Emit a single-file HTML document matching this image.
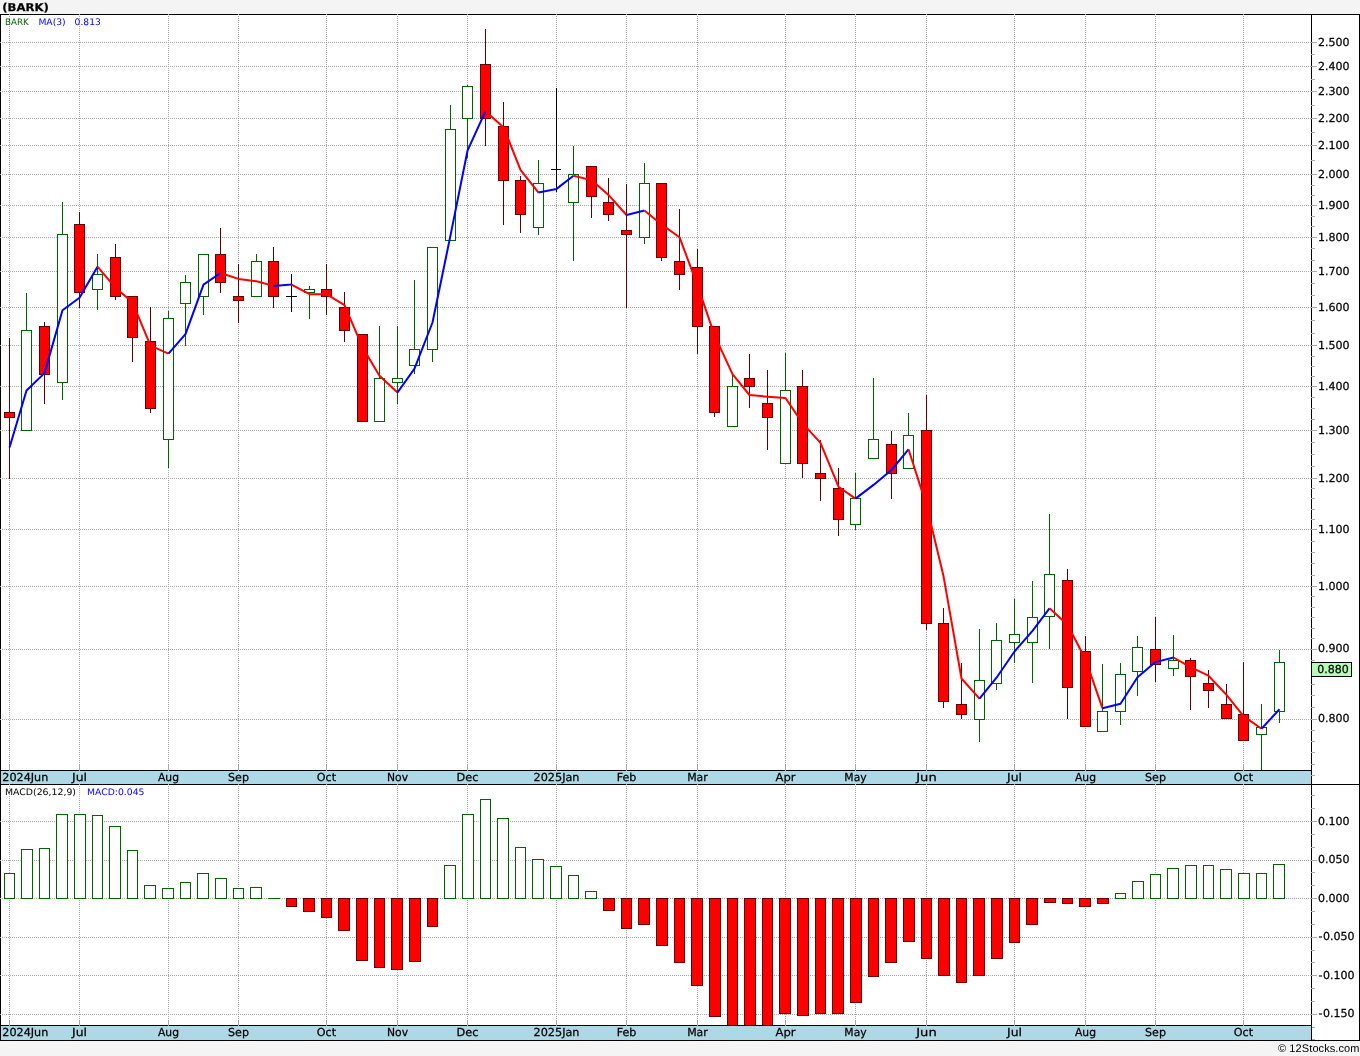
<!DOCTYPE html>
<html lang="en"><head><meta charset="utf-8"><title>(BARK)</title>
<style>html,body{margin:0;padding:0;background:#f4f4f4;overflow:hidden}svg{display:block}</style>
</head><body>
<svg width="1360" height="1056" viewBox="0 0 1360 1056" style="display:block;font-family:'DejaVu Sans', 'Liberation Sans', sans-serif" shape-rendering="crispEdges">
<rect x="0" y="0" width="1360" height="1056" fill="#f4f4f4"/>
<rect x="0" y="14" width="1360" height="1027" fill="#ffffff"/>
<rect x="1" y="771" width="1310" height="13" fill="#add8e6"/>
<rect x="1" y="1026" width="1310" height="14" fill="#add8e6"/>
<g stroke="#aaaaaa" stroke-width="1" stroke-dasharray="1 1" fill="none">
<path d="M2 42.5H1311"/>
<path d="M2 66.5H1311"/>
<path d="M2 91.5H1311"/>
<path d="M2 118.5H1311"/>
<path d="M2 145.5H1311"/>
<path d="M2 174.5H1311"/>
<path d="M2 205.5H1311"/>
<path d="M2 237.5H1311"/>
<path d="M2 271.5H1311"/>
<path d="M2 307.5H1311"/>
<path d="M2 345.5H1311"/>
<path d="M2 386.5H1311"/>
<path d="M2 430.5H1311"/>
<path d="M2 478.5H1311"/>
<path d="M2 529.5H1311"/>
<path d="M2 586.5H1311"/>
<path d="M2 649.5H1311"/>
<path d="M2 719.5H1311"/>
<path d="M2 821.5H1311"/>
<path d="M2 860.5H1311"/>
<path d="M2 898.5H1311"/>
<path d="M2 937.5H1311"/>
<path d="M2 975.5H1311"/>
<path d="M2 1014.5H1311"/>
<path d="M9.5 16V764"/>
<path d="M9.5 786V1020"/>
<path d="M79.5 16V764"/>
<path d="M79.5 786V1020"/>
<path d="M168.5 16V764"/>
<path d="M168.5 786V1020"/>
<path d="M238.5 16V764"/>
<path d="M238.5 786V1020"/>
<path d="M326.5 16V764"/>
<path d="M326.5 786V1020"/>
<path d="M397.5 16V764"/>
<path d="M397.5 786V1020"/>
<path d="M467.5 16V764"/>
<path d="M467.5 786V1020"/>
<path d="M556.5 16V764"/>
<path d="M556.5 786V1020"/>
<path d="M626.5 16V764"/>
<path d="M626.5 786V1020"/>
<path d="M697.5 16V764"/>
<path d="M697.5 786V1020"/>
<path d="M785.5 16V764"/>
<path d="M785.5 786V1020"/>
<path d="M855.5 16V764"/>
<path d="M855.5 786V1020"/>
<path d="M926.5 16V764"/>
<path d="M926.5 786V1020"/>
<path d="M1014.5 16V764"/>
<path d="M1014.5 786V1020"/>
<path d="M1085.5 16V764"/>
<path d="M1085.5 786V1020"/>
<path d="M1155.5 16V764"/>
<path d="M1155.5 786V1020"/>
<path d="M1243.5 16V764"/>
<path d="M1243.5 786V1020"/>
</g>
<rect x="0" y="14" width="1360" height="1" fill="#000"/>
<rect x="0" y="770" width="1312" height="1" fill="#000"/>
<rect x="0" y="784" width="1360" height="1" fill="#000"/>
<rect x="0" y="1025" width="1312" height="1" fill="#000"/>
<rect x="0" y="1040" width="1360" height="1" fill="#000"/>
<rect x="0" y="14" width="1" height="1027" fill="#000"/>
<rect x="1359" y="14" width="1" height="1027" fill="#000"/>
<rect x="1311" y="14" width="1" height="1027" fill="#000"/>
<rect x="9" y="14" width="1" height="1" fill="#aaaaaa"/>
<rect x="9" y="784" width="1" height="1" fill="#aaaaaa"/>
<rect x="9" y="764" width="1" height="7" fill="#aaaaaa"/>
<rect x="9" y="1020" width="1" height="6" fill="#aaaaaa"/>
<rect x="79" y="14" width="1" height="1" fill="#aaaaaa"/>
<rect x="79" y="784" width="1" height="1" fill="#aaaaaa"/>
<rect x="79" y="764" width="1" height="7" fill="#aaaaaa"/>
<rect x="79" y="1020" width="1" height="6" fill="#aaaaaa"/>
<rect x="168" y="14" width="1" height="1" fill="#aaaaaa"/>
<rect x="168" y="784" width="1" height="1" fill="#aaaaaa"/>
<rect x="168" y="764" width="1" height="7" fill="#aaaaaa"/>
<rect x="168" y="1020" width="1" height="6" fill="#aaaaaa"/>
<rect x="238" y="14" width="1" height="1" fill="#aaaaaa"/>
<rect x="238" y="784" width="1" height="1" fill="#aaaaaa"/>
<rect x="238" y="764" width="1" height="7" fill="#aaaaaa"/>
<rect x="238" y="1020" width="1" height="6" fill="#aaaaaa"/>
<rect x="326" y="14" width="1" height="1" fill="#aaaaaa"/>
<rect x="326" y="784" width="1" height="1" fill="#aaaaaa"/>
<rect x="326" y="764" width="1" height="7" fill="#aaaaaa"/>
<rect x="326" y="1020" width="1" height="6" fill="#aaaaaa"/>
<rect x="397" y="14" width="1" height="1" fill="#aaaaaa"/>
<rect x="397" y="784" width="1" height="1" fill="#aaaaaa"/>
<rect x="397" y="764" width="1" height="7" fill="#aaaaaa"/>
<rect x="397" y="1020" width="1" height="6" fill="#aaaaaa"/>
<rect x="467" y="14" width="1" height="1" fill="#aaaaaa"/>
<rect x="467" y="784" width="1" height="1" fill="#aaaaaa"/>
<rect x="467" y="764" width="1" height="7" fill="#aaaaaa"/>
<rect x="467" y="1020" width="1" height="6" fill="#aaaaaa"/>
<rect x="556" y="14" width="1" height="1" fill="#aaaaaa"/>
<rect x="556" y="784" width="1" height="1" fill="#aaaaaa"/>
<rect x="556" y="764" width="1" height="7" fill="#aaaaaa"/>
<rect x="556" y="1020" width="1" height="6" fill="#aaaaaa"/>
<rect x="626" y="14" width="1" height="1" fill="#aaaaaa"/>
<rect x="626" y="784" width="1" height="1" fill="#aaaaaa"/>
<rect x="626" y="764" width="1" height="7" fill="#aaaaaa"/>
<rect x="626" y="1020" width="1" height="6" fill="#aaaaaa"/>
<rect x="697" y="14" width="1" height="1" fill="#aaaaaa"/>
<rect x="697" y="784" width="1" height="1" fill="#aaaaaa"/>
<rect x="697" y="764" width="1" height="7" fill="#aaaaaa"/>
<rect x="697" y="1020" width="1" height="6" fill="#aaaaaa"/>
<rect x="785" y="14" width="1" height="1" fill="#aaaaaa"/>
<rect x="785" y="784" width="1" height="1" fill="#aaaaaa"/>
<rect x="785" y="764" width="1" height="7" fill="#aaaaaa"/>
<rect x="785" y="1020" width="1" height="6" fill="#aaaaaa"/>
<rect x="855" y="14" width="1" height="1" fill="#aaaaaa"/>
<rect x="855" y="784" width="1" height="1" fill="#aaaaaa"/>
<rect x="855" y="764" width="1" height="7" fill="#aaaaaa"/>
<rect x="855" y="1020" width="1" height="6" fill="#aaaaaa"/>
<rect x="926" y="14" width="1" height="1" fill="#aaaaaa"/>
<rect x="926" y="784" width="1" height="1" fill="#aaaaaa"/>
<rect x="926" y="764" width="1" height="7" fill="#aaaaaa"/>
<rect x="926" y="1020" width="1" height="6" fill="#aaaaaa"/>
<rect x="1014" y="14" width="1" height="1" fill="#aaaaaa"/>
<rect x="1014" y="784" width="1" height="1" fill="#aaaaaa"/>
<rect x="1014" y="764" width="1" height="7" fill="#aaaaaa"/>
<rect x="1014" y="1020" width="1" height="6" fill="#aaaaaa"/>
<rect x="1085" y="14" width="1" height="1" fill="#aaaaaa"/>
<rect x="1085" y="784" width="1" height="1" fill="#aaaaaa"/>
<rect x="1085" y="764" width="1" height="7" fill="#aaaaaa"/>
<rect x="1085" y="1020" width="1" height="6" fill="#aaaaaa"/>
<rect x="1155" y="14" width="1" height="1" fill="#aaaaaa"/>
<rect x="1155" y="784" width="1" height="1" fill="#aaaaaa"/>
<rect x="1155" y="764" width="1" height="7" fill="#aaaaaa"/>
<rect x="1155" y="1020" width="1" height="6" fill="#aaaaaa"/>
<rect x="1243" y="14" width="1" height="1" fill="#aaaaaa"/>
<rect x="1243" y="784" width="1" height="1" fill="#aaaaaa"/>
<rect x="1243" y="764" width="1" height="7" fill="#aaaaaa"/>
<rect x="1243" y="1020" width="1" height="6" fill="#aaaaaa"/>
<rect x="0" y="42" width="1" height="1" fill="#aaaaaa"/>
<rect x="0" y="66" width="1" height="1" fill="#aaaaaa"/>
<rect x="0" y="91" width="1" height="1" fill="#aaaaaa"/>
<rect x="0" y="118" width="1" height="1" fill="#aaaaaa"/>
<rect x="0" y="145" width="1" height="1" fill="#aaaaaa"/>
<rect x="0" y="174" width="1" height="1" fill="#aaaaaa"/>
<rect x="0" y="205" width="1" height="1" fill="#aaaaaa"/>
<rect x="0" y="237" width="1" height="1" fill="#aaaaaa"/>
<rect x="0" y="271" width="1" height="1" fill="#aaaaaa"/>
<rect x="0" y="307" width="1" height="1" fill="#aaaaaa"/>
<rect x="0" y="345" width="1" height="1" fill="#aaaaaa"/>
<rect x="0" y="386" width="1" height="1" fill="#aaaaaa"/>
<rect x="0" y="430" width="1" height="1" fill="#aaaaaa"/>
<rect x="0" y="478" width="1" height="1" fill="#aaaaaa"/>
<rect x="0" y="529" width="1" height="1" fill="#aaaaaa"/>
<rect x="0" y="586" width="1" height="1" fill="#aaaaaa"/>
<rect x="0" y="649" width="1" height="1" fill="#aaaaaa"/>
<rect x="0" y="719" width="1" height="1" fill="#aaaaaa"/>
<rect x="0" y="821" width="1" height="1" fill="#aaaaaa"/>
<rect x="0" y="860" width="1" height="1" fill="#aaaaaa"/>
<rect x="0" y="898" width="1" height="1" fill="#aaaaaa"/>
<rect x="0" y="937" width="1" height="1" fill="#aaaaaa"/>
<rect x="0" y="975" width="1" height="1" fill="#aaaaaa"/>
<rect x="0" y="1014" width="1" height="1" fill="#aaaaaa"/>
<rect x="1311" y="42" width="6" height="1" fill="#aaaaaa"/>
<rect x="1311" y="66" width="6" height="1" fill="#aaaaaa"/>
<rect x="1311" y="91" width="6" height="1" fill="#aaaaaa"/>
<rect x="1311" y="118" width="6" height="1" fill="#aaaaaa"/>
<rect x="1311" y="145" width="6" height="1" fill="#aaaaaa"/>
<rect x="1311" y="174" width="6" height="1" fill="#aaaaaa"/>
<rect x="1311" y="205" width="6" height="1" fill="#aaaaaa"/>
<rect x="1311" y="237" width="6" height="1" fill="#aaaaaa"/>
<rect x="1311" y="271" width="6" height="1" fill="#aaaaaa"/>
<rect x="1311" y="307" width="6" height="1" fill="#aaaaaa"/>
<rect x="1311" y="345" width="6" height="1" fill="#aaaaaa"/>
<rect x="1311" y="386" width="6" height="1" fill="#aaaaaa"/>
<rect x="1311" y="430" width="6" height="1" fill="#aaaaaa"/>
<rect x="1311" y="478" width="6" height="1" fill="#aaaaaa"/>
<rect x="1311" y="529" width="6" height="1" fill="#aaaaaa"/>
<rect x="1311" y="586" width="6" height="1" fill="#aaaaaa"/>
<rect x="1311" y="649" width="6" height="1" fill="#aaaaaa"/>
<rect x="1311" y="719" width="6" height="1" fill="#aaaaaa"/>
<rect x="1311" y="54" width="4" height="1" fill="#aaaaaa"/>
<rect x="1311" y="79" width="4" height="1" fill="#aaaaaa"/>
<rect x="1311" y="105" width="4" height="1" fill="#aaaaaa"/>
<rect x="1311" y="132" width="4" height="1" fill="#aaaaaa"/>
<rect x="1311" y="160" width="4" height="1" fill="#aaaaaa"/>
<rect x="1311" y="185" width="4" height="1" fill="#aaaaaa"/>
<rect x="1311" y="195" width="4" height="1" fill="#aaaaaa"/>
<rect x="1311" y="216" width="4" height="1" fill="#aaaaaa"/>
<rect x="1311" y="226" width="4" height="1" fill="#aaaaaa"/>
<rect x="1311" y="248" width="4" height="1" fill="#aaaaaa"/>
<rect x="1311" y="260" width="4" height="1" fill="#aaaaaa"/>
<rect x="1311" y="283" width="4" height="1" fill="#aaaaaa"/>
<rect x="1311" y="295" width="4" height="1" fill="#aaaaaa"/>
<rect x="1311" y="320" width="4" height="1" fill="#aaaaaa"/>
<rect x="1311" y="333" width="4" height="1" fill="#aaaaaa"/>
<rect x="1311" y="356" width="4" height="1" fill="#aaaaaa"/>
<rect x="1311" y="366" width="4" height="1" fill="#aaaaaa"/>
<rect x="1311" y="376" width="4" height="1" fill="#aaaaaa"/>
<rect x="1311" y="397" width="4" height="1" fill="#aaaaaa"/>
<rect x="1311" y="408" width="4" height="1" fill="#aaaaaa"/>
<rect x="1311" y="419" width="4" height="1" fill="#aaaaaa"/>
<rect x="1311" y="442" width="4" height="1" fill="#aaaaaa"/>
<rect x="1311" y="454" width="4" height="1" fill="#aaaaaa"/>
<rect x="1311" y="466" width="4" height="1" fill="#aaaaaa"/>
<rect x="1311" y="488" width="4" height="1" fill="#aaaaaa"/>
<rect x="1311" y="498" width="4" height="1" fill="#aaaaaa"/>
<rect x="1311" y="509" width="4" height="1" fill="#aaaaaa"/>
<rect x="1311" y="519" width="4" height="1" fill="#aaaaaa"/>
<rect x="1311" y="541" width="4" height="1" fill="#aaaaaa"/>
<rect x="1311" y="552" width="4" height="1" fill="#aaaaaa"/>
<rect x="1311" y="563" width="4" height="1" fill="#aaaaaa"/>
<rect x="1311" y="575" width="4" height="1" fill="#aaaaaa"/>
<rect x="1311" y="596" width="4" height="1" fill="#aaaaaa"/>
<rect x="1311" y="607" width="4" height="1" fill="#aaaaaa"/>
<rect x="1311" y="617" width="4" height="1" fill="#aaaaaa"/>
<rect x="1311" y="628" width="4" height="1" fill="#aaaaaa"/>
<rect x="1311" y="638" width="4" height="1" fill="#aaaaaa"/>
<rect x="1311" y="660" width="4" height="1" fill="#aaaaaa"/>
<rect x="1311" y="672" width="4" height="1" fill="#aaaaaa"/>
<rect x="1311" y="684" width="4" height="1" fill="#aaaaaa"/>
<rect x="1311" y="695" width="4" height="1" fill="#aaaaaa"/>
<rect x="1311" y="707" width="4" height="1" fill="#aaaaaa"/>
<rect x="1311" y="730" width="4" height="1" fill="#aaaaaa"/>
<rect x="1311" y="741" width="4" height="1" fill="#aaaaaa"/>
<rect x="1311" y="752" width="4" height="1" fill="#aaaaaa"/>
<rect x="1311" y="764" width="4" height="1" fill="#aaaaaa"/>
<rect x="1311" y="775" width="4" height="1" fill="#aaaaaa"/>
<rect x="1311" y="1039" width="4" height="1" fill="#aaaaaa"/>
<rect x="1311" y="1027" width="4" height="1" fill="#aaaaaa"/>
<rect x="1311" y="1014" width="6" height="1" fill="#aaaaaa"/>
<rect x="1311" y="1001" width="4" height="1" fill="#aaaaaa"/>
<rect x="1311" y="988" width="4" height="1" fill="#aaaaaa"/>
<rect x="1311" y="975" width="6" height="1" fill="#aaaaaa"/>
<rect x="1311" y="962" width="4" height="1" fill="#aaaaaa"/>
<rect x="1311" y="950" width="4" height="1" fill="#aaaaaa"/>
<rect x="1311" y="937" width="6" height="1" fill="#aaaaaa"/>
<rect x="1311" y="924" width="4" height="1" fill="#aaaaaa"/>
<rect x="1311" y="911" width="4" height="1" fill="#aaaaaa"/>
<rect x="1311" y="898" width="6" height="1" fill="#aaaaaa"/>
<rect x="1311" y="885" width="4" height="1" fill="#aaaaaa"/>
<rect x="1311" y="872" width="4" height="1" fill="#aaaaaa"/>
<rect x="1311" y="860" width="6" height="1" fill="#aaaaaa"/>
<rect x="1311" y="847" width="4" height="1" fill="#aaaaaa"/>
<rect x="1311" y="834" width="4" height="1" fill="#aaaaaa"/>
<rect x="1311" y="821" width="6" height="1" fill="#aaaaaa"/>
<rect x="1311" y="808" width="4" height="1" fill="#aaaaaa"/>
<rect x="1311" y="795" width="4" height="1" fill="#aaaaaa"/>
<rect x="9" y="338" width="1" height="75" fill="#640000"/>
<rect x="9" y="417" width="1" height="62" fill="#640000"/>
<rect x="4.5" y="412.5" width="10" height="5" fill="#ff0000" stroke="#640000" stroke-width="1"/>
<rect x="26" y="293" width="1" height="38" fill="#006400"/>
<rect x="21.5" y="330.5" width="10" height="100" fill="#ffffff" stroke="#006400" stroke-width="1"/>
<rect x="44" y="322" width="1" height="5" fill="#640000"/>
<rect x="44" y="374" width="1" height="30" fill="#640000"/>
<rect x="39.5" y="326.5" width="10" height="48" fill="#ff0000" stroke="#640000" stroke-width="1"/>
<rect x="62" y="202" width="1" height="33" fill="#006400"/>
<rect x="62" y="382" width="1" height="18" fill="#006400"/>
<rect x="57.5" y="234.5" width="10" height="148" fill="#ffffff" stroke="#006400" stroke-width="1"/>
<rect x="79" y="212" width="1" height="13" fill="#640000"/>
<rect x="79" y="292" width="1" height="16" fill="#640000"/>
<rect x="74.5" y="224.5" width="10" height="68" fill="#ff0000" stroke="#640000" stroke-width="1"/>
<rect x="97" y="254" width="1" height="21" fill="#006400"/>
<rect x="97" y="289" width="1" height="21" fill="#006400"/>
<rect x="92.5" y="274.5" width="10" height="15" fill="#ffffff" stroke="#006400" stroke-width="1"/>
<rect x="115" y="244" width="1" height="14" fill="#640000"/>
<rect x="115" y="296" width="1" height="4" fill="#640000"/>
<rect x="110.5" y="257.5" width="10" height="39" fill="#ff0000" stroke="#640000" stroke-width="1"/>
<rect x="132" y="337" width="1" height="25" fill="#640000"/>
<rect x="127.5" y="296.5" width="10" height="41" fill="#ff0000" stroke="#640000" stroke-width="1"/>
<rect x="150" y="307" width="1" height="35" fill="#640000"/>
<rect x="150" y="408" width="1" height="5" fill="#640000"/>
<rect x="145.5" y="341.5" width="10" height="67" fill="#ff0000" stroke="#640000" stroke-width="1"/>
<rect x="168" y="311" width="1" height="8" fill="#006400"/>
<rect x="168" y="439" width="1" height="29" fill="#006400"/>
<rect x="163.5" y="318.5" width="10" height="121" fill="#ffffff" stroke="#006400" stroke-width="1"/>
<rect x="185" y="275" width="1" height="8" fill="#006400"/>
<rect x="185" y="303" width="1" height="43" fill="#006400"/>
<rect x="180.5" y="282.5" width="10" height="21" fill="#ffffff" stroke="#006400" stroke-width="1"/>
<rect x="203" y="296" width="1" height="19" fill="#006400"/>
<rect x="198.5" y="254.5" width="10" height="42" fill="#ffffff" stroke="#006400" stroke-width="1"/>
<rect x="220" y="228" width="1" height="27" fill="#640000"/>
<rect x="220" y="282" width="1" height="11" fill="#640000"/>
<rect x="215.5" y="254.5" width="10" height="28" fill="#ff0000" stroke="#640000" stroke-width="1"/>
<rect x="238" y="264" width="1" height="33" fill="#640000"/>
<rect x="238" y="300" width="1" height="23" fill="#640000"/>
<rect x="233.5" y="296.5" width="10" height="4" fill="#ff0000" stroke="#640000" stroke-width="1"/>
<rect x="256" y="254" width="1" height="8" fill="#006400"/>
<rect x="251.5" y="261.5" width="10" height="35" fill="#ffffff" stroke="#006400" stroke-width="1"/>
<rect x="273" y="247" width="1" height="15" fill="#640000"/>
<rect x="273" y="296" width="1" height="12" fill="#640000"/>
<rect x="268.5" y="261.5" width="10" height="35" fill="#ff0000" stroke="#640000" stroke-width="1"/>
<rect x="291" y="274" width="1" height="38" fill="#000"/>
<rect x="286" y="296" width="11" height="1" fill="#000"/>
<rect x="309" y="286" width="1" height="4" fill="#006400"/>
<rect x="309" y="292" width="1" height="27" fill="#006400"/>
<rect x="304.5" y="289.5" width="10" height="3" fill="#ffffff" stroke="#006400" stroke-width="1"/>
<rect x="326" y="264" width="1" height="26" fill="#640000"/>
<rect x="326" y="296" width="1" height="19" fill="#640000"/>
<rect x="321.5" y="289.5" width="10" height="7" fill="#ff0000" stroke="#640000" stroke-width="1"/>
<rect x="344" y="292" width="1" height="16" fill="#640000"/>
<rect x="344" y="330" width="1" height="12" fill="#640000"/>
<rect x="339.5" y="307.5" width="10" height="23" fill="#ff0000" stroke="#640000" stroke-width="1"/>
<rect x="357.5" y="334.5" width="10" height="87" fill="#ff0000" stroke="#640000" stroke-width="1"/>
<rect x="379" y="326" width="1" height="53" fill="#006400"/>
<rect x="374.5" y="378.5" width="10" height="43" fill="#ffffff" stroke="#006400" stroke-width="1"/>
<rect x="397" y="326" width="1" height="53" fill="#006400"/>
<rect x="397" y="382" width="1" height="22" fill="#006400"/>
<rect x="392.5" y="378.5" width="10" height="4" fill="#ffffff" stroke="#006400" stroke-width="1"/>
<rect x="414" y="280" width="1" height="70" fill="#006400"/>
<rect x="414" y="365" width="1" height="9" fill="#006400"/>
<rect x="409.5" y="349.5" width="10" height="16" fill="#ffffff" stroke="#006400" stroke-width="1"/>
<rect x="432" y="349" width="1" height="13" fill="#006400"/>
<rect x="427.5" y="247.5" width="10" height="102" fill="#ffffff" stroke="#006400" stroke-width="1"/>
<rect x="450" y="105" width="1" height="25" fill="#006400"/>
<rect x="445.5" y="129.5" width="10" height="111" fill="#ffffff" stroke="#006400" stroke-width="1"/>
<rect x="467" y="85" width="1" height="2" fill="#006400"/>
<rect x="467" y="118" width="1" height="40" fill="#006400"/>
<rect x="462.5" y="86.5" width="10" height="32" fill="#ffffff" stroke="#006400" stroke-width="1"/>
<rect x="485" y="29" width="1" height="36" fill="#640000"/>
<rect x="485" y="118" width="1" height="28" fill="#640000"/>
<rect x="480.5" y="64.5" width="10" height="54" fill="#ff0000" stroke="#640000" stroke-width="1"/>
<rect x="503" y="102" width="1" height="25" fill="#640000"/>
<rect x="503" y="180" width="1" height="45" fill="#640000"/>
<rect x="498.5" y="126.5" width="10" height="54" fill="#ff0000" stroke="#640000" stroke-width="1"/>
<rect x="520" y="176" width="1" height="5" fill="#640000"/>
<rect x="520" y="214" width="1" height="19" fill="#640000"/>
<rect x="515.5" y="180.5" width="10" height="34" fill="#ff0000" stroke="#640000" stroke-width="1"/>
<rect x="538" y="160" width="1" height="24" fill="#006400"/>
<rect x="538" y="227" width="1" height="8" fill="#006400"/>
<rect x="533.5" y="183.5" width="10" height="44" fill="#ffffff" stroke="#006400" stroke-width="1"/>
<rect x="556" y="88" width="1" height="104" fill="#000"/>
<rect x="551" y="169" width="10" height="1" fill="#000"/>
<rect x="573" y="146" width="1" height="29" fill="#006400"/>
<rect x="573" y="202" width="1" height="59" fill="#006400"/>
<rect x="568.5" y="174.5" width="10" height="28" fill="#ffffff" stroke="#006400" stroke-width="1"/>
<rect x="591" y="196" width="1" height="22" fill="#640000"/>
<rect x="586.5" y="166.5" width="10" height="30" fill="#ff0000" stroke="#640000" stroke-width="1"/>
<rect x="608" y="178" width="1" height="25" fill="#640000"/>
<rect x="608" y="214" width="1" height="7" fill="#640000"/>
<rect x="603.5" y="202.5" width="10" height="12" fill="#ff0000" stroke="#640000" stroke-width="1"/>
<rect x="626" y="184" width="1" height="47" fill="#640000"/>
<rect x="626" y="234" width="1" height="74" fill="#640000"/>
<rect x="621.5" y="230.5" width="10" height="4" fill="#ff0000" stroke="#640000" stroke-width="1"/>
<rect x="644" y="163" width="1" height="21" fill="#006400"/>
<rect x="644" y="237" width="1" height="7" fill="#006400"/>
<rect x="639.5" y="183.5" width="10" height="54" fill="#ffffff" stroke="#006400" stroke-width="1"/>
<rect x="661" y="257" width="1" height="4" fill="#640000"/>
<rect x="656.5" y="183.5" width="10" height="74" fill="#ff0000" stroke="#640000" stroke-width="1"/>
<rect x="679" y="209" width="1" height="53" fill="#640000"/>
<rect x="679" y="274" width="1" height="16" fill="#640000"/>
<rect x="674.5" y="261.5" width="10" height="13" fill="#ff0000" stroke="#640000" stroke-width="1"/>
<rect x="697" y="249" width="1" height="19" fill="#640000"/>
<rect x="697" y="326" width="1" height="28" fill="#640000"/>
<rect x="692.5" y="267.5" width="10" height="59" fill="#ff0000" stroke="#640000" stroke-width="1"/>
<rect x="714" y="412" width="1" height="5" fill="#640000"/>
<rect x="709.5" y="326.5" width="10" height="86" fill="#ff0000" stroke="#640000" stroke-width="1"/>
<rect x="732" y="373" width="1" height="14" fill="#006400"/>
<rect x="727.5" y="386.5" width="10" height="40" fill="#ffffff" stroke="#006400" stroke-width="1"/>
<rect x="749" y="354" width="1" height="25" fill="#640000"/>
<rect x="749" y="386" width="1" height="22" fill="#640000"/>
<rect x="744.5" y="378.5" width="10" height="8" fill="#ff0000" stroke="#640000" stroke-width="1"/>
<rect x="767" y="370" width="1" height="34" fill="#640000"/>
<rect x="767" y="417" width="1" height="33" fill="#640000"/>
<rect x="762.5" y="403.5" width="10" height="14" fill="#ff0000" stroke="#640000" stroke-width="1"/>
<rect x="785" y="353" width="1" height="38" fill="#006400"/>
<rect x="780.5" y="390.5" width="10" height="73" fill="#ffffff" stroke="#006400" stroke-width="1"/>
<rect x="802" y="370" width="1" height="17" fill="#640000"/>
<rect x="802" y="463" width="1" height="15" fill="#640000"/>
<rect x="797.5" y="386.5" width="10" height="77" fill="#ff0000" stroke="#640000" stroke-width="1"/>
<rect x="820" y="440" width="1" height="34" fill="#640000"/>
<rect x="820" y="478" width="1" height="23" fill="#640000"/>
<rect x="815.5" y="473.5" width="10" height="5" fill="#ff0000" stroke="#640000" stroke-width="1"/>
<rect x="838" y="468" width="1" height="21" fill="#640000"/>
<rect x="838" y="519" width="1" height="17" fill="#640000"/>
<rect x="833.5" y="488.5" width="10" height="31" fill="#ff0000" stroke="#640000" stroke-width="1"/>
<rect x="855" y="473" width="1" height="26" fill="#006400"/>
<rect x="855" y="524" width="1" height="6" fill="#006400"/>
<rect x="850.5" y="498.5" width="10" height="26" fill="#ffffff" stroke="#006400" stroke-width="1"/>
<rect x="873" y="378" width="1" height="62" fill="#006400"/>
<rect x="868.5" y="439.5" width="10" height="19" fill="#ffffff" stroke="#006400" stroke-width="1"/>
<rect x="891" y="431" width="1" height="14" fill="#640000"/>
<rect x="891" y="473" width="1" height="26" fill="#640000"/>
<rect x="886.5" y="444.5" width="10" height="29" fill="#ff0000" stroke="#640000" stroke-width="1"/>
<rect x="908" y="413" width="1" height="23" fill="#006400"/>
<rect x="903.5" y="435.5" width="10" height="33" fill="#ffffff" stroke="#006400" stroke-width="1"/>
<rect x="926" y="395" width="1" height="36" fill="#640000"/>
<rect x="926" y="623" width="1" height="7" fill="#640000"/>
<rect x="921.5" y="430.5" width="10" height="193" fill="#ff0000" stroke="#640000" stroke-width="1"/>
<rect x="943" y="608" width="1" height="16" fill="#640000"/>
<rect x="943" y="701" width="1" height="7" fill="#640000"/>
<rect x="938.5" y="623.5" width="10" height="78" fill="#ff0000" stroke="#640000" stroke-width="1"/>
<rect x="961" y="663" width="1" height="42" fill="#640000"/>
<rect x="961" y="714" width="1" height="5" fill="#640000"/>
<rect x="956.5" y="704.5" width="10" height="10" fill="#ff0000" stroke="#640000" stroke-width="1"/>
<rect x="979" y="629" width="1" height="52" fill="#006400"/>
<rect x="979" y="719" width="1" height="23" fill="#006400"/>
<rect x="974.5" y="680.5" width="10" height="39" fill="#ffffff" stroke="#006400" stroke-width="1"/>
<rect x="996" y="623" width="1" height="18" fill="#006400"/>
<rect x="996" y="683" width="1" height="7" fill="#006400"/>
<rect x="991.5" y="640.5" width="10" height="43" fill="#ffffff" stroke="#006400" stroke-width="1"/>
<rect x="1014" y="599" width="1" height="36" fill="#006400"/>
<rect x="1014" y="642" width="1" height="21" fill="#006400"/>
<rect x="1009.5" y="634.5" width="10" height="8" fill="#ffffff" stroke="#006400" stroke-width="1"/>
<rect x="1032" y="581" width="1" height="37" fill="#006400"/>
<rect x="1032" y="642" width="1" height="41" fill="#006400"/>
<rect x="1027.5" y="617.5" width="10" height="25" fill="#ffffff" stroke="#006400" stroke-width="1"/>
<rect x="1049" y="514" width="1" height="61" fill="#006400"/>
<rect x="1049" y="616" width="1" height="33" fill="#006400"/>
<rect x="1044.5" y="574.5" width="10" height="42" fill="#ffffff" stroke="#006400" stroke-width="1"/>
<rect x="1067" y="569" width="1" height="12" fill="#640000"/>
<rect x="1067" y="687" width="1" height="32" fill="#640000"/>
<rect x="1062.5" y="580.5" width="10" height="107" fill="#ff0000" stroke="#640000" stroke-width="1"/>
<rect x="1085" y="636" width="1" height="16" fill="#640000"/>
<rect x="1080.5" y="651.5" width="10" height="75" fill="#ff0000" stroke="#640000" stroke-width="1"/>
<rect x="1102" y="664" width="1" height="48" fill="#006400"/>
<rect x="1097.5" y="711.5" width="10" height="20" fill="#ffffff" stroke="#006400" stroke-width="1"/>
<rect x="1120" y="663" width="1" height="12" fill="#006400"/>
<rect x="1120" y="711" width="1" height="14" fill="#006400"/>
<rect x="1115.5" y="674.5" width="10" height="37" fill="#ffffff" stroke="#006400" stroke-width="1"/>
<rect x="1137" y="636" width="1" height="12" fill="#006400"/>
<rect x="1137" y="671" width="1" height="25" fill="#006400"/>
<rect x="1132.5" y="647.5" width="10" height="24" fill="#ffffff" stroke="#006400" stroke-width="1"/>
<rect x="1155" y="617" width="1" height="33" fill="#640000"/>
<rect x="1155" y="664" width="1" height="18" fill="#640000"/>
<rect x="1150.5" y="649.5" width="10" height="15" fill="#ff0000" stroke="#640000" stroke-width="1"/>
<rect x="1173" y="635" width="1" height="26" fill="#006400"/>
<rect x="1173" y="668" width="1" height="8" fill="#006400"/>
<rect x="1168.5" y="660.5" width="10" height="8" fill="#ffffff" stroke="#006400" stroke-width="1"/>
<rect x="1190" y="658" width="1" height="3" fill="#640000"/>
<rect x="1190" y="676" width="1" height="34" fill="#640000"/>
<rect x="1185.5" y="660.5" width="10" height="16" fill="#ff0000" stroke="#640000" stroke-width="1"/>
<rect x="1208" y="670" width="1" height="14" fill="#640000"/>
<rect x="1208" y="690" width="1" height="18" fill="#640000"/>
<rect x="1203.5" y="683.5" width="10" height="7" fill="#ff0000" stroke="#640000" stroke-width="1"/>
<rect x="1226" y="684" width="1" height="21" fill="#640000"/>
<rect x="1221.5" y="704.5" width="10" height="14" fill="#ff0000" stroke="#640000" stroke-width="1"/>
<rect x="1243" y="662" width="1" height="53" fill="#640000"/>
<rect x="1238.5" y="714.5" width="10" height="26" fill="#ff0000" stroke="#640000" stroke-width="1"/>
<rect x="1261" y="704" width="1" height="24" fill="#006400"/>
<rect x="1261" y="734" width="1" height="36" fill="#006400"/>
<rect x="1256.5" y="727.5" width="10" height="7" fill="#ffffff" stroke="#006400" stroke-width="1"/>
<rect x="1279" y="650" width="1" height="13" fill="#006400"/>
<rect x="1279" y="711" width="1" height="12" fill="#006400"/>
<rect x="1274.5" y="662.5" width="10" height="49" fill="#ffffff" stroke="#006400" stroke-width="1"/>
<g shape-rendering="geometricPrecision" fill="none" stroke-width="2" stroke-linecap="butt" stroke-linejoin="round">
<path d="M9.5 447.5L26.5 390.5L44.5 373.1L62.5 310.3L79.5 297.7L97.5 266.7" stroke="#0000ff"/>
<path d="M97.5 266.7L115.5 287.8L132.5 302.3L150.5 345.7L168.5 353.6" stroke="#ff0000"/>
<path d="M168.5 353.6L185.5 334.2L203.5 284.6L220.5 273.0" stroke="#0000ff"/>
<path d="M220.5 273.0L238.5 278.9L256.5 281.3L273.5 285.9" stroke="#ff0000"/>
<path d="M273.5 285.9L291.5 284.6" stroke="#0000ff"/>
<path d="M291.5 284.6L309.5 294.2L326.5 294.2L344.5 305.2L362.5 347.2L379.5 375.7L397.5 392.5" stroke="#ff0000"/>
<path d="M397.5 392.5L414.5 368.7L432.5 322.5L450.5 235.4L467.5 150.7L485.5 111.2" stroke="#0000ff"/>
<path d="M485.5 111.2L503.5 127.2L520.5 169.8L538.5 192.6" stroke="#ff0000"/>
<path d="M538.5 192.6L556.5 188.9L573.5 175.8" stroke="#0000ff"/>
<path d="M573.5 175.8L591.5 180.1L608.5 194.9L626.5 215.0" stroke="#ff0000"/>
<path d="M626.5 215.0L644.5 210.5" stroke="#0000ff"/>
<path d="M644.5 210.5L661.5 224.4L679.5 237.2L697.5 285.4L714.5 335.1L732.5 374.1L749.5 395.0L767.5 396.7L785.5 398.0L802.5 423.1L820.5 442.9L838.5 486.7L855.5 498.6" stroke="#ff0000"/>
<path d="M855.5 498.6L873.5 484.9L891.5 470.0L908.5 449.3" stroke="#0000ff"/>
<path d="M908.5 449.3L926.5 505.4L943.5 576.1L961.5 678.5L979.5 698.7" stroke="#ff0000"/>
<path d="M979.5 698.7L996.5 677.7L1014.5 651.5L1032.5 630.8L1049.5 608.3" stroke="#0000ff"/>
<path d="M1049.5 608.3L1067.5 624.7L1085.5 659.3L1102.5 708.3" stroke="#ff0000"/>
<path d="M1102.5 708.3L1120.5 703.8L1137.5 677.3L1155.5 662.1L1173.5 657.5" stroke="#0000ff"/>
<path d="M1173.5 657.5L1190.5 667.1L1208.5 675.7L1226.5 694.9L1243.5 716.1L1261.5 728.8" stroke="#ff0000"/>
<path d="M1261.5 728.8L1279.5 709.2" stroke="#0000ff"/>
</g>
<rect x="4.5" y="873.5" width="10" height="25" fill="#ffffff" stroke="#006400" stroke-width="1"/>
<rect x="21.5" y="849.5" width="11" height="49" fill="#ffffff" stroke="#006400" stroke-width="1"/>
<rect x="39.5" y="848.5" width="10" height="50" fill="#ffffff" stroke="#006400" stroke-width="1"/>
<rect x="56.5" y="814.5" width="11" height="84" fill="#ffffff" stroke="#006400" stroke-width="1"/>
<rect x="74.5" y="814.5" width="11" height="84" fill="#ffffff" stroke="#006400" stroke-width="1"/>
<rect x="92.5" y="815.5" width="10" height="83" fill="#ffffff" stroke="#006400" stroke-width="1"/>
<rect x="109.5" y="826.5" width="11" height="72" fill="#ffffff" stroke="#006400" stroke-width="1"/>
<rect x="127.5" y="850.5" width="10" height="48" fill="#ffffff" stroke="#006400" stroke-width="1"/>
<rect x="144.5" y="885.5" width="11" height="13" fill="#ffffff" stroke="#006400" stroke-width="1"/>
<rect x="162.5" y="888.5" width="11" height="10" fill="#ffffff" stroke="#006400" stroke-width="1"/>
<rect x="180.5" y="882.5" width="10" height="16" fill="#ffffff" stroke="#006400" stroke-width="1"/>
<rect x="197.5" y="873.5" width="11" height="25" fill="#ffffff" stroke="#006400" stroke-width="1"/>
<rect x="215.5" y="878.5" width="11" height="20" fill="#ffffff" stroke="#006400" stroke-width="1"/>
<rect x="233.5" y="888.5" width="10" height="10" fill="#ffffff" stroke="#006400" stroke-width="1"/>
<rect x="250.5" y="887.5" width="11" height="11" fill="#ffffff" stroke="#006400" stroke-width="1"/>
<rect x="268" y="898" width="12" height="1" fill="#006400"/>
<rect x="286.5" y="898.5" width="10" height="8" fill="#ff0000" stroke="#640000" stroke-width="1"/>
<rect x="303.5" y="898.5" width="11" height="13" fill="#ff0000" stroke="#640000" stroke-width="1"/>
<rect x="321.5" y="898.5" width="10" height="19" fill="#ff0000" stroke="#640000" stroke-width="1"/>
<rect x="338.5" y="898.5" width="11" height="32" fill="#ff0000" stroke="#640000" stroke-width="1"/>
<rect x="356.5" y="898.5" width="11" height="62" fill="#ff0000" stroke="#640000" stroke-width="1"/>
<rect x="374.5" y="898.5" width="10" height="69" fill="#ff0000" stroke="#640000" stroke-width="1"/>
<rect x="391.5" y="898.5" width="11" height="71" fill="#ff0000" stroke="#640000" stroke-width="1"/>
<rect x="409.5" y="898.5" width="11" height="63" fill="#ff0000" stroke="#640000" stroke-width="1"/>
<rect x="427.5" y="898.5" width="10" height="28" fill="#ff0000" stroke="#640000" stroke-width="1"/>
<rect x="444.5" y="865.5" width="11" height="33" fill="#ffffff" stroke="#006400" stroke-width="1"/>
<rect x="462.5" y="814.5" width="11" height="84" fill="#ffffff" stroke="#006400" stroke-width="1"/>
<rect x="480.5" y="799.5" width="10" height="99" fill="#ffffff" stroke="#006400" stroke-width="1"/>
<rect x="497.5" y="818.5" width="11" height="80" fill="#ffffff" stroke="#006400" stroke-width="1"/>
<rect x="515.5" y="847.5" width="10" height="51" fill="#ffffff" stroke="#006400" stroke-width="1"/>
<rect x="532.5" y="859.5" width="11" height="39" fill="#ffffff" stroke="#006400" stroke-width="1"/>
<rect x="550.5" y="866.5" width="11" height="32" fill="#ffffff" stroke="#006400" stroke-width="1"/>
<rect x="568.5" y="875.5" width="10" height="23" fill="#ffffff" stroke="#006400" stroke-width="1"/>
<rect x="585.5" y="891.5" width="11" height="7" fill="#ffffff" stroke="#006400" stroke-width="1"/>
<rect x="603.5" y="898.5" width="11" height="12" fill="#ff0000" stroke="#640000" stroke-width="1"/>
<rect x="621.5" y="898.5" width="10" height="30" fill="#ff0000" stroke="#640000" stroke-width="1"/>
<rect x="638.5" y="898.5" width="11" height="26" fill="#ff0000" stroke="#640000" stroke-width="1"/>
<rect x="656.5" y="898.5" width="11" height="47" fill="#ff0000" stroke="#640000" stroke-width="1"/>
<rect x="674.5" y="898.5" width="10" height="64" fill="#ff0000" stroke="#640000" stroke-width="1"/>
<rect x="691.5" y="898.5" width="11" height="87" fill="#ff0000" stroke="#640000" stroke-width="1"/>
<rect x="709.5" y="898.5" width="11" height="118" fill="#ff0000" stroke="#640000" stroke-width="1"/>
<rect x="727.5" y="898.5" width="10" height="132" fill="#ff0000" stroke="#640000" stroke-width="1"/>
<rect x="744.5" y="898.5" width="11" height="132" fill="#ff0000" stroke="#640000" stroke-width="1"/>
<rect x="762.5" y="898.5" width="10" height="132" fill="#ff0000" stroke="#640000" stroke-width="1"/>
<rect x="779.5" y="898.5" width="11" height="115" fill="#ff0000" stroke="#640000" stroke-width="1"/>
<rect x="797.5" y="898.5" width="11" height="117" fill="#ff0000" stroke="#640000" stroke-width="1"/>
<rect x="815.5" y="898.5" width="10" height="115" fill="#ff0000" stroke="#640000" stroke-width="1"/>
<rect x="832.5" y="898.5" width="11" height="115" fill="#ff0000" stroke="#640000" stroke-width="1"/>
<rect x="850.5" y="898.5" width="11" height="104" fill="#ff0000" stroke="#640000" stroke-width="1"/>
<rect x="868.5" y="898.5" width="10" height="78" fill="#ff0000" stroke="#640000" stroke-width="1"/>
<rect x="885.5" y="898.5" width="11" height="64" fill="#ff0000" stroke="#640000" stroke-width="1"/>
<rect x="903.5" y="898.5" width="11" height="43" fill="#ff0000" stroke="#640000" stroke-width="1"/>
<rect x="921.5" y="898.5" width="10" height="60" fill="#ff0000" stroke="#640000" stroke-width="1"/>
<rect x="938.5" y="898.5" width="11" height="77" fill="#ff0000" stroke="#640000" stroke-width="1"/>
<rect x="956.5" y="898.5" width="10" height="84" fill="#ff0000" stroke="#640000" stroke-width="1"/>
<rect x="973.5" y="898.5" width="11" height="77" fill="#ff0000" stroke="#640000" stroke-width="1"/>
<rect x="991.5" y="898.5" width="11" height="60" fill="#ff0000" stroke="#640000" stroke-width="1"/>
<rect x="1009.5" y="898.5" width="10" height="44" fill="#ff0000" stroke="#640000" stroke-width="1"/>
<rect x="1026.5" y="898.5" width="11" height="26" fill="#ff0000" stroke="#640000" stroke-width="1"/>
<rect x="1044.5" y="898.5" width="11" height="4" fill="#ff0000" stroke="#640000" stroke-width="1"/>
<rect x="1062.5" y="898.5" width="10" height="5" fill="#ff0000" stroke="#640000" stroke-width="1"/>
<rect x="1079.5" y="898.5" width="11" height="8" fill="#ff0000" stroke="#640000" stroke-width="1"/>
<rect x="1097.5" y="898.5" width="11" height="5" fill="#ff0000" stroke="#640000" stroke-width="1"/>
<rect x="1115.5" y="893.5" width="10" height="5" fill="#ffffff" stroke="#006400" stroke-width="1"/>
<rect x="1132.5" y="881.5" width="11" height="17" fill="#ffffff" stroke="#006400" stroke-width="1"/>
<rect x="1150.5" y="874.5" width="10" height="24" fill="#ffffff" stroke="#006400" stroke-width="1"/>
<rect x="1167.5" y="868.5" width="11" height="30" fill="#ffffff" stroke="#006400" stroke-width="1"/>
<rect x="1185.5" y="865.5" width="11" height="33" fill="#ffffff" stroke="#006400" stroke-width="1"/>
<rect x="1203.5" y="865.5" width="10" height="33" fill="#ffffff" stroke="#006400" stroke-width="1"/>
<rect x="1220.5" y="869.5" width="11" height="29" fill="#ffffff" stroke="#006400" stroke-width="1"/>
<rect x="1238.5" y="873.5" width="11" height="25" fill="#ffffff" stroke="#006400" stroke-width="1"/>
<rect x="1256.5" y="873.5" width="10" height="25" fill="#ffffff" stroke="#006400" stroke-width="1"/>
<rect x="1273.5" y="864.5" width="11" height="34" fill="#ffffff" stroke="#006400" stroke-width="1"/>
<rect x="1" y="1026" width="1310" height="14" fill="#add8e6"/>
<rect x="0" y="1025" width="1312" height="1" fill="#000"/>
<rect x="0" y="1040" width="1360" height="1" fill="#000"/>
<rect x="9" y="1025" width="1" height="1" fill="#aaaaaa"/>
<rect x="79" y="1025" width="1" height="1" fill="#aaaaaa"/>
<rect x="168" y="1025" width="1" height="1" fill="#aaaaaa"/>
<rect x="238" y="1025" width="1" height="1" fill="#aaaaaa"/>
<rect x="326" y="1025" width="1" height="1" fill="#aaaaaa"/>
<rect x="397" y="1025" width="1" height="1" fill="#aaaaaa"/>
<rect x="467" y="1025" width="1" height="1" fill="#aaaaaa"/>
<rect x="556" y="1025" width="1" height="1" fill="#aaaaaa"/>
<rect x="626" y="1025" width="1" height="1" fill="#aaaaaa"/>
<rect x="697" y="1025" width="1" height="1" fill="#aaaaaa"/>
<rect x="785" y="1025" width="1" height="1" fill="#aaaaaa"/>
<rect x="855" y="1025" width="1" height="1" fill="#aaaaaa"/>
<rect x="926" y="1025" width="1" height="1" fill="#aaaaaa"/>
<rect x="1014" y="1025" width="1" height="1" fill="#aaaaaa"/>
<rect x="1085" y="1025" width="1" height="1" fill="#aaaaaa"/>
<rect x="1155" y="1025" width="1" height="1" fill="#aaaaaa"/>
<rect x="1243" y="1025" width="1" height="1" fill="#aaaaaa"/>
<rect x="1311" y="1025" width="1" height="16" fill="#000"/>
<rect x="1311.5" y="662.5" width="40" height="14" fill="#b5fab5" stroke="#000" stroke-width="1"/>
<g shape-rendering="auto" text-rendering="geometricPrecision" stroke="#000" stroke-width="0.25" paint-order="stroke">
<text x="2.3" y="11" font-size="10.8" font-weight="bold" fill="#000" textLength="46.5" lengthAdjust="spacingAndGlyphs">(BARK)</text>
<text x="5" y="24.8" font-size="9" fill="#006400" stroke="none" textLength="23.8" lengthAdjust="spacingAndGlyphs">BARK</text>
<text x="38.4" y="24.8" font-size="9" fill="#0000ff" stroke="none" textLength="27.3" lengthAdjust="spacingAndGlyphs">MA(3)</text>
<text x="74.6" y="24.8" font-size="9" fill="#0000ff" stroke="none" textLength="26.2" lengthAdjust="spacingAndGlyphs">0.813</text>
<text x="5" y="795" font-size="9" fill="#000" stroke="none" textLength="71" lengthAdjust="spacingAndGlyphs">MACD(26,12,9)</text>
<text x="87" y="795" font-size="9" fill="#0000ff" stroke="none" textLength="57.5" lengthAdjust="spacingAndGlyphs">MACD:0.045</text>
<text x="1318" y="46" font-size="11" fill="#000">2.500</text>
<text x="1318" y="70" font-size="11" fill="#000">2.400</text>
<text x="1318" y="95" font-size="11" fill="#000">2.300</text>
<text x="1318" y="122" font-size="11" fill="#000">2.200</text>
<text x="1318" y="149" font-size="11" fill="#000">2.100</text>
<text x="1318" y="178" font-size="11" fill="#000">2.000</text>
<text x="1318" y="209" font-size="11" fill="#000">1.900</text>
<text x="1318" y="241" font-size="11" fill="#000">1.800</text>
<text x="1318" y="275" font-size="11" fill="#000">1.700</text>
<text x="1318" y="311" font-size="11" fill="#000">1.600</text>
<text x="1318" y="349" font-size="11" fill="#000">1.500</text>
<text x="1318" y="390" font-size="11" fill="#000">1.400</text>
<text x="1318" y="434" font-size="11" fill="#000">1.300</text>
<text x="1318" y="482" font-size="11" fill="#000">1.200</text>
<text x="1318" y="533" font-size="11" fill="#000">1.100</text>
<text x="1318" y="590" font-size="11" fill="#000">1.000</text>
<text x="1318" y="652" font-size="11" fill="#000">0.900</text>
<text x="1318" y="722" font-size="11" fill="#000">0.800</text>
<text x="1318" y="825" font-size="11" fill="#000">0.100</text>
<text x="1318" y="863" font-size="11" fill="#000">0.050</text>
<text x="1318" y="902" font-size="11" fill="#000">0.000</text>
<text x="1318.4" y="940" font-size="11" fill="#000">-</text>
<text x="1323.1" y="940" font-size="11" fill="#000">0.050</text>
<text x="1318.4" y="979" font-size="11" fill="#000">-</text>
<text x="1323.1" y="979" font-size="11" fill="#000">0.100</text>
<text x="1318.4" y="1017" font-size="11" fill="#000">-</text>
<text x="1323.1" y="1017" font-size="11" fill="#000">0.150</text>
<text x="1317.2" y="673" font-size="11" fill="#000">0.880</text>
<text x="2.3" y="781" font-size="11" fill="#000" textLength="46" lengthAdjust="spacingAndGlyphs">2024Jun</text>
<text x="2.3" y="1036" font-size="11" fill="#000" textLength="46" lengthAdjust="spacingAndGlyphs">2024Jun</text>
<text x="72.00" y="781" font-size="11" fill="#000" textLength="15" lengthAdjust="spacingAndGlyphs">Jul</text>
<text x="72.00" y="1036" font-size="11" fill="#000" textLength="15" lengthAdjust="spacingAndGlyphs">Jul</text>
<text x="158.00" y="781" font-size="11" fill="#000" textLength="21" lengthAdjust="spacingAndGlyphs">Aug</text>
<text x="158.00" y="1036" font-size="11" fill="#000" textLength="21" lengthAdjust="spacingAndGlyphs">Aug</text>
<text x="228.00" y="781" font-size="11" fill="#000" textLength="21" lengthAdjust="spacingAndGlyphs">Sep</text>
<text x="228.00" y="1036" font-size="11" fill="#000" textLength="21" lengthAdjust="spacingAndGlyphs">Sep</text>
<text x="316.85" y="781" font-size="11" fill="#000" textLength="19.3" lengthAdjust="spacingAndGlyphs">Oct</text>
<text x="316.85" y="1036" font-size="11" fill="#000" textLength="19.3" lengthAdjust="spacingAndGlyphs">Oct</text>
<text x="387.00" y="781" font-size="11" fill="#000" textLength="21" lengthAdjust="spacingAndGlyphs">Nov</text>
<text x="387.00" y="1036" font-size="11" fill="#000" textLength="21" lengthAdjust="spacingAndGlyphs">Nov</text>
<text x="456.50" y="781" font-size="11" fill="#000" textLength="22" lengthAdjust="spacingAndGlyphs">Dec</text>
<text x="456.50" y="1036" font-size="11" fill="#000" textLength="22" lengthAdjust="spacingAndGlyphs">Dec</text>
<text x="533.50" y="781" font-size="11" fill="#000" textLength="46" lengthAdjust="spacingAndGlyphs">2025Jan</text>
<text x="533.50" y="1036" font-size="11" fill="#000" textLength="46" lengthAdjust="spacingAndGlyphs">2025Jan</text>
<text x="616.65" y="781" font-size="11" fill="#000" textLength="19.7" lengthAdjust="spacingAndGlyphs">Feb</text>
<text x="616.65" y="1036" font-size="11" fill="#000" textLength="19.7" lengthAdjust="spacingAndGlyphs">Feb</text>
<text x="687.15" y="781" font-size="11" fill="#000" textLength="20.7" lengthAdjust="spacingAndGlyphs">Mar</text>
<text x="687.15" y="1036" font-size="11" fill="#000" textLength="20.7" lengthAdjust="spacingAndGlyphs">Mar</text>
<text x="775.50" y="781" font-size="11" fill="#000" textLength="20" lengthAdjust="spacingAndGlyphs">Apr</text>
<text x="775.50" y="1036" font-size="11" fill="#000" textLength="20" lengthAdjust="spacingAndGlyphs">Apr</text>
<text x="844.35" y="781" font-size="11" fill="#000" textLength="22.3" lengthAdjust="spacingAndGlyphs">May</text>
<text x="844.35" y="1036" font-size="11" fill="#000" textLength="22.3" lengthAdjust="spacingAndGlyphs">May</text>
<text x="916.25" y="781" font-size="11" fill="#000" textLength="20.5" lengthAdjust="spacingAndGlyphs">Jun</text>
<text x="916.25" y="1036" font-size="11" fill="#000" textLength="20.5" lengthAdjust="spacingAndGlyphs">Jun</text>
<text x="1007.00" y="781" font-size="11" fill="#000" textLength="15" lengthAdjust="spacingAndGlyphs">Jul</text>
<text x="1007.00" y="1036" font-size="11" fill="#000" textLength="15" lengthAdjust="spacingAndGlyphs">Jul</text>
<text x="1075.00" y="781" font-size="11" fill="#000" textLength="21" lengthAdjust="spacingAndGlyphs">Aug</text>
<text x="1075.00" y="1036" font-size="11" fill="#000" textLength="21" lengthAdjust="spacingAndGlyphs">Aug</text>
<text x="1145.00" y="781" font-size="11" fill="#000" textLength="21" lengthAdjust="spacingAndGlyphs">Sep</text>
<text x="1145.00" y="1036" font-size="11" fill="#000" textLength="21" lengthAdjust="spacingAndGlyphs">Sep</text>
<text x="1233.85" y="781" font-size="11" fill="#000" textLength="19.3" lengthAdjust="spacingAndGlyphs">Oct</text>
<text x="1233.85" y="1036" font-size="11" fill="#000" textLength="19.3" lengthAdjust="spacingAndGlyphs">Oct</text>
<text x="1359.5" y="1052" font-size="11" fill="#000" text-anchor="end" stroke="none" font-family="'Liberation Sans', Arial, sans-serif" textLength="81.5" lengthAdjust="spacing">© 12Stocks.com</text>
</g>
</svg>
</body></html>
